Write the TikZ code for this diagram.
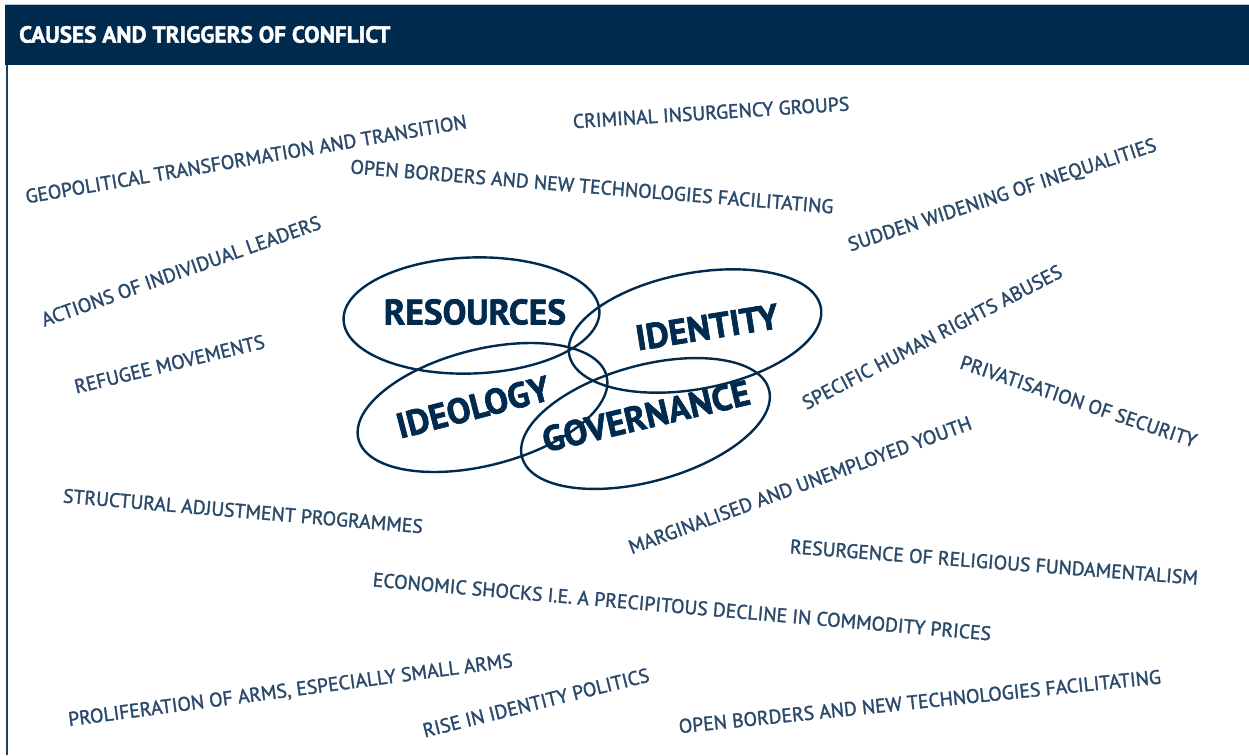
\documentclass[tikz,border=0pt]{standalone}
\usepackage{fontspec}
\newfontfamily\lblfont[FakeBold=1.6]{PT Sans}
\newfontfamily\hdfont[BoldFeatures={FakeBold=1.8}]{PT Sans}
\usetikzlibrary{shapes.geometric}
\definecolor{navy}{HTML}{002B4E}
\definecolor{lblc}{HTML}{2B4A6B}
\definecolor{framec}{HTML}{1B3F63}
\definecolor{edgec}{HTML}{B8C4CF}
\tikzset{
  lbl/.style={font=\lblfont\fontsize{19.7}{19.7}\selectfont, text=lblc, inner sep=0pt, anchor=center},
  big/.style={font=\hdfont\bfseries\fontsize{35.5}{35.5}\selectfont, text=navy, inner sep=0pt, anchor=center},
  ell/.style={ellipse, draw=navy, line width=2.4pt, inner sep=0pt, minimum width=256pt, minimum height=116pt},
}
\begin{document}
\begin{tikzpicture}[x=1pt,y=1pt]
\useasboundingbox (0,0) rectangle (1249,-755);
\fill[white] (0,0) rectangle (1249,-755);
% header
\fill[navy] (5,-4) rectangle (1249,-65);
\draw[edgec, line width=1pt] (5,-4) -- (1249,-4);
\draw[framec, line width=2.2pt] (7,-65) -- (7,-755);
\node[font=\hdfont\bfseries\fontsize{23.2}{23.2}\selectfont, text=white, anchor=west, inner sep=0pt] (title) at (19,-34.5) {CAUSES AND TRIGGERS OF CONFLICT};
% ellipses
\node[ell, rotate=2] (e1) at (471.5,-315.5) {};
\node[ell, rotate=10.6] (e2) at (695,-331) {};
\node[ell, rotate=14.3] (e3) at (482.5,-407.5) {};
\node[ell, rotate=15.4] (e4) at (645.5,-423.5) {};
\node[big, rotate=0] (t1) at (475,-312) {RESOURCES};
\node[big, rotate=9] (t2) at (707,-327) {IDENTITY};
\node[big, rotate=14.5] (t3) at (473,-407) {IDEOLOGY};
\node[big, rotate=13.2] (t4) at (646,-416) {GOVERNANCE};
% labels
\node[lbl, rotate=9.7] (l1) at (246,-159) {GEOPOLITICAL TRANSFORMATION AND TRANSITION};
\node[lbl, rotate=3.7] (l2) at (711,-112.5) {CRIMINAL INSURGENCY GROUPS};
\node[lbl, rotate=-4.75] (l3) at (592,-186.5) {OPEN BORDERS AND NEW TECHNOLOGIES FACILITATING};
\node[lbl, rotate=18.2] (l4) at (1002.5,-196) {SUDDEN WIDENING OF INEQUALITIES};
\node[lbl, rotate=19.5] (l5) at (181,-271) {ACTIONS OF INDIVIDUAL LEADERS};
\node[lbl, rotate=13.6] (l6) at (169.5,-364) {REFUGEE MOVEMENTS};
\node[lbl, rotate=27.5] (l7) at (932,-337) {SPECIFIC HUMAN RIGHTS ABUSES};
\node[lbl, rotate=-18.7] (l8) at (1078.6,-401.3) {PRIVATISATION OF SECURITY};
\node[lbl, rotate=-4.9] (l9) at (243,-511) {STRUCTURAL ADJUSTMENT PROGRAMMES};
\node[lbl, rotate=20.2] (l10) at (800,-485) {MARGINALISED AND UNEMPLOYED YOUTH};
\node[lbl, rotate=-4.4] (l11) at (994,-562) {RESURGENCE OF RELIGIOUS FUNDAMENTALISM};
\node[lbl, rotate=-5.0] (l12) at (682,-606.5) {ECONOMIC SHOCKS I.E. A PRECIPITOUS DECLINE IN COMMODITY PRICES};
\node[lbl, rotate=7.6] (l13) at (290.6,-691) {PROLIFERATION OF ARMS, ESPECIALLY SMALL ARMS};
\node[lbl, rotate=14] (l14) at (536,-702.7) {RISE IN IDENTITY POLITICS};
\node[lbl, rotate=5.9] (l15) at (919.8,-701.5) {OPEN BORDERS AND NEW TECHNOLOGIES FACILITATING};
\end{tikzpicture}
\end{document}
